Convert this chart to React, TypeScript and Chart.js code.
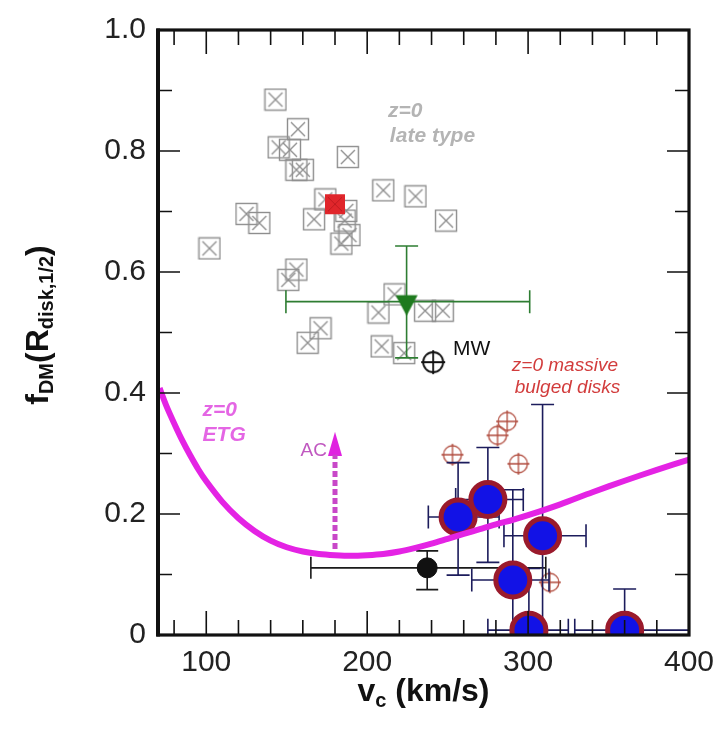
import React, { useEffect, useRef } from 'react';
import { Chart, registerables } from 'chart.js';

Chart.register(...registerables);

// ---------------- data ----------------
const lateTypeVc = [143, 157, 145, 152, 156, 160, 188, 125, 133, 102, 174, 167, 187, 186, 189, 184, 210, 230, 249, 156, 151, 171, 163, 217, 207, 236, 247, 209, 223];
const lateTypeF = [0.885, 0.836, 0.806, 0.802, 0.769, 0.769, 0.79, 0.696, 0.681, 0.639, 0.72, 0.687, 0.701, 0.685, 0.661, 0.647, 0.735, 0.725, 0.685, 0.604, 0.587, 0.507, 0.483, 0.563, 0.533, 0.536, 0.536, 0.477, 0.466];

const redSquareVc = [180];
const redSquareF = [0.712];

const greenVc = [224.5];
const greenF = [0.551];
const greenXLo = [149.5];
const greenXHi = [301];
const greenYLo = [0.458];
const greenYHi = [0.643];

const mwVc = [241];
const mwF = [0.451];

const blackVc = [237.3];
const blackF = [0.111];
const blackXLo = [165];
const blackXHi = [311];
const blackYLo = [0.075];
const blackYHi = [0.139];

const bulgedCrossVc = [287, 281, 253, 294, 313.5];
const bulgedCrossF = [0.353, 0.33, 0.298, 0.283, 0.087];

const bulgedVc = [256.5, 275, 309, 290.5, 300.5, 360];
const bulgedF = [0.195, 0.224, 0.164, 0.091, 0.008, 0.008];
const bulgedXLo = [238, 255, 285, 265, 275, 329];
const bulgedXHi = [282, 297, 336, 313, 325, 405];
const bulgedYLo = [0.099, 0.12, 0, 0, 0, 0];
const bulgedYHi = [0.285, 0.31, 0.381, 0.24, 0.11, 0.076];

const etgVc = [71, 75, 80, 85, 90, 95, 100, 110, 120, 130, 140, 150, 160, 170, 180, 190, 200, 210, 220, 230, 240, 250, 260, 270, 280, 290, 300, 320, 340, 360, 380, 400];
const etgF = [0.408, 0.38, 0.35, 0.322, 0.297, 0.274, 0.254, 0.22, 0.193, 0.172, 0.156, 0.145, 0.138, 0.134, 0.132, 0.131, 0.132, 0.134, 0.138, 0.144, 0.151, 0.159, 0.167, 0.175, 0.183, 0.19, 0.198, 0.216, 0.236, 0.255, 0.273, 0.29];

const acVc = [180, 180];
const acF = [0.142, 0.298];
const acHeadVc = [180];
const acHeadF = [0.316];

const xTickValues = [100, 200, 300, 400];
const yTickValues = [0, 0.2, 0.4, 0.6, 0.8, 1.0];
const xMinorTicks = [80, 100, 120, 140, 160, 180, 200, 220, 240, 260, 280, 300, 320, 340, 360, 380];
const yMinorTicks = [0.1, 0.2, 0.3, 0.4, 0.5, 0.6, 0.7, 0.8, 0.9];

const FONT = '"Liberation Sans", Arial, Helvetica, sans-serif';

function pts(xs: number[], ys: number[]) {
  return xs.map((x, i) => ({ x, y: ys[i] }));
}

function makeCanvas(w: number, h: number, draw: (c: CanvasRenderingContext2D) => void) {
  const c = document.createElement('canvas');
  c.width = w;
  c.height = h;
  const ctx = c.getContext('2d')!;
  draw(ctx);
  return c;
}

export default function App() {
  const ref = useRef<HTMLCanvasElement | null>(null);

  useEffect(() => {
    if (!ref.current) return;

    const squareX = makeCanvas(24, 24, (c) => {
      c.strokeStyle = '#8e8e8e';
      c.lineWidth = 1.4;
      c.strokeRect(1.5, 1.5, 21, 21);
      c.beginPath();
      c.moveTo(5, 5); c.lineTo(19, 19);
      c.moveTo(19, 5); c.lineTo(5, 19);
      c.stroke();
    });
    const redSq = makeCanvas(22, 22, (c) => {
      c.fillStyle = '#e0262b';
      c.fillRect(1, 1, 20, 20);
      c.strokeStyle = '#c01a20';
      c.lineWidth = 1;
      c.beginPath();
      c.moveTo(4, 4); c.lineTo(18, 18);
      c.moveTo(18, 4); c.lineTo(4, 18);
      c.stroke();
    });
    const crossCircle = (color: string, r: number, lw: number) =>
      makeCanvas(2 * r + 6, 2 * r + 6, (c) => {
        const m = r + 3;
        c.strokeStyle = color;
        c.lineWidth = lw;
        c.beginPath();
        c.arc(m, m, r, 0, Math.PI * 2);
        c.stroke();
        c.beginPath();
        c.moveTo(m - r - 2, m); c.lineTo(m + r + 2, m);
        c.moveTo(m, m - r - 2); c.lineTo(m, m + r + 2);
        c.stroke();
      });
    const redCross = crossCircle('#b04a3c', 9, 1.3);
    const mwCross = crossCircle('#111111', 10, 1.8);
    const greenTri = makeCanvas(24, 30, (c) => {
      c.fillStyle = '#1e7a1e';
      c.beginPath();
      c.moveTo(1, 8.5); c.lineTo(23, 8.5); c.lineTo(12, 29);
      c.closePath();
      c.fill();
    });
    const arrowHead = makeCanvas(14, 24, (c) => {
      c.fillStyle = '#e022e0';
      c.beginPath();
      c.moveTo(7, 0); c.lineTo(14, 24); c.lineTo(0, 24);
      c.closePath();
      c.fill();
    });

    const drawText = (ctx: CanvasRenderingContext2D, text: string, x: number, y: number, font: string, color: string, align: CanvasTextAlign = 'left') => {
      ctx.save();
      ctx.font = font;
      ctx.fillStyle = color;
      ctx.textAlign = align;
      ctx.textBaseline = 'middle';
      ctx.fillText(text, x, y);
      ctx.restore();
    };

    type Part = { t: string; sub: boolean };
    const richWidth = (ctx: CanvasRenderingContext2D, parts: Part[], main: string, sub: string) => {
      let w = 0;
      for (const p of parts) {
        ctx.font = p.sub ? sub : main;
        w += ctx.measureText(p.t).width;
      }
      return w;
    };
    const drawRich = (ctx: CanvasRenderingContext2D, parts: Part[], x0: number, baseY: number, main: string, sub: string, subOff: number) => {
      let x = x0;
      ctx.textBaseline = 'alphabetic';
      ctx.textAlign = 'left';
      for (const p of parts) {
        ctx.font = p.sub ? sub : main;
        ctx.fillText(p.t, x, baseY + (p.sub ? subOff : 0));
        x += ctx.measureText(p.t).width;
      }
    };

    const customPlugin = {
      id: 'custom',
      beforeDatasetDraw(chart: any, args: any) {
        const ds = chart.data.datasets[args.index];
        const eb = ds.errorBars;
        if (!eb) return;
        const { ctx, chartArea: a } = chart;
        const xs = chart.scales.x, ys = chart.scales.y;
        ctx.save();
        ctx.beginPath();
        ctx.rect(a.left, a.top, a.right - a.left, a.bottom - a.top);
        ctx.clip();
        ctx.strokeStyle = eb.color;
        ctx.lineWidth = eb.width;
        const cap = eb.cap;
        ds.data.forEach((d: any, i: number) => {
          const px = xs.getPixelForValue(d.x), py = ys.getPixelForValue(d.y);
          const xl = xs.getPixelForValue(eb.xLo[i]), xh = xs.getPixelForValue(eb.xHi[i]);
          const yl = ys.getPixelForValue(eb.yLo[i]), yh = ys.getPixelForValue(eb.yHi[i]);
          ctx.beginPath();
          ctx.moveTo(xl, py); ctx.lineTo(xh, py);
          ctx.moveTo(xl, py - cap); ctx.lineTo(xl, py + cap);
          ctx.moveTo(xh, py - cap); ctx.lineTo(xh, py + cap);
          ctx.moveTo(px, yl); ctx.lineTo(px, yh);
          ctx.moveTo(px - cap, yl); ctx.lineTo(px + cap, yl);
          ctx.moveTo(px - cap, yh); ctx.lineTo(px + cap, yh);
          ctx.stroke();
        });
        ctx.restore();
      },
      afterDatasetsDraw(chart: any) {
        const { ctx, chartArea: a } = chart;
        const xs = chart.scales.x, ys = chart.scales.y;
        const X = (v: number) => xs.getPixelForValue(v);
        const Y = (v: number) => ys.getPixelForValue(v);

        // annotations
        drawText(ctx, 'z=0', X(212.9), Y(0.866), `italic bold 21px ${FONT}`, '#b4b4b4');
        drawText(ctx, 'late type', X(214.1), Y(0.824), `italic bold 21px ${FONT}`, '#b4b4b4');
        drawText(ctx, 'MW', X(253.3), Y(0.473), `21px ${FONT}`, '#111111');
        drawText(ctx, 'z=0 massive', X(289.9), Y(0.445), `italic 19px ${FONT}`, '#d23c3c');
        drawText(ctx, 'bulged disks', X(291.7), Y(0.409), `italic 19px ${FONT}`, '#d23c3c');
        drawText(ctx, 'z=0', X(97.7), Y(0.372), `italic bold 21px ${FONT}`, '#e466e4');
        drawText(ctx, 'ETG', X(97.7), Y(0.33), `italic bold 21px ${FONT}`, '#e466e4');
        drawText(ctx, 'AC', X(175), Y(0.305), `19px ${FONT}`, '#c058c0', 'right');

        // ticks (inward) on all four sides
        ctx.save();
        ctx.strokeStyle = '#111111';
        ctx.lineWidth = 1.6;
        ctx.beginPath();
        for (const v of xMinorTicks) {
          const len = v % 100 === 0 ? 24 : 15;
          const x = X(v);
          ctx.moveTo(x, a.bottom); ctx.lineTo(x, a.bottom - len);
          ctx.moveTo(x, a.top); ctx.lineTo(x, a.top + len);
        }
        for (const v of yMinorTicks) {
          const major = Math.abs(Math.round(v * 10) % 2) === 0;
          const len = major ? 22 : 14;
          const y = Y(v);
          ctx.moveTo(a.left, y); ctx.lineTo(a.left + len, y);
          ctx.moveTo(a.right, y); ctx.lineTo(a.right - len, y);
        }
        ctx.stroke();
        // frame
        ctx.lineWidth = 3.2;
        ctx.strokeRect(a.left, a.top, a.right - a.left, a.bottom - a.top);
        ctx.lineWidth = 4;
        ctx.beginPath();
        ctx.moveTo(a.left, a.top - 1.5); ctx.lineTo(a.left, a.bottom + 1.5);
        ctx.stroke();
        ctx.restore();
      },
      afterDraw(chart: any) {
        const { ctx, chartArea: a } = chart;
        const main = `bold 32px ${FONT}`;
        const sub = `bold 20px ${FONT}`;
        ctx.save();
        ctx.fillStyle = '#111111';
        // y axis title
        const yParts = [
          { t: 'f', sub: false },
          { t: 'DM', sub: true },
          { t: '(R', sub: false },
          { t: 'disk,1/2', sub: true },
          { t: ')', sub: false },
        ];
        const wy = richWidth(ctx, yParts, main, sub);
        ctx.save();
        ctx.translate(48, 325);
        ctx.rotate(-Math.PI / 2);
        drawRich(ctx, yParts, -wy / 2, 0, main, sub, 5);
        ctx.restore();
        // x axis title
        const xParts = [
          { t: 'v', sub: false },
          { t: 'c', sub: true },
          { t: ' (km/s)', sub: false },
        ];
        const wx = richWidth(ctx, xParts, main, sub);
        drawRich(ctx, xParts, (a.left + a.right) / 2 - wx / 2, 701, main, sub, 6);
        ctx.restore();
      },
    };

    const chart = new Chart(ref.current, {
      type: 'scatter',
      data: {
        datasets: [
          {
            label: 'late type',
            data: pts(lateTypeVc, lateTypeF),
            pointStyle: squareX as any,
            pointRadius: 11,
            order: 9,
          },
          {
            label: 'red square',
            data: pts(redSquareVc, redSquareF),
            pointStyle: redSq as any,
            pointRadius: 11,
            order: 8,
          },
          {
            label: 'green',
            data: pts(greenVc, greenF),
            pointStyle: greenTri as any,
            pointRadius: 11,
            order: 7,
            errorBars: { xLo: greenXLo, xHi: greenXHi, yLo: greenYLo, yHi: greenYHi, color: '#2e7d32', width: 1.6, cap: 11.5 },
          } as any,
          {
            label: 'MW',
            data: pts(mwVc, mwF),
            pointStyle: mwCross as any,
            pointRadius: 11,
            order: 7,
          },
          {
            label: 'bulged cross',
            data: pts(bulgedCrossVc, bulgedCrossF),
            pointStyle: redCross as any,
            pointRadius: 10,
            order: 5,
          },
          {
            label: 'black',
            data: pts(blackVc, blackF),
            pointStyle: 'circle',
            pointRadius: 10,
            backgroundColor: '#111111',
            borderColor: '#111111',
            borderWidth: 1,
            order: 4,
            errorBars: { xLo: blackXLo, xHi: blackXHi, yLo: blackYLo, yHi: blackYHi, color: '#1a1a1a', width: 1.6, cap: 11 },
          } as any,
          {
            label: 'bulged',
            data: pts(bulgedVc, bulgedF),
            pointStyle: 'circle',
            pointRadius: 17,
            backgroundColor: '#1212e6',
            borderColor: '#9a1a2c',
            borderWidth: 5,
            order: 3,
            clip: 0,
            errorBars: { xLo: bulgedXLo, xHi: bulgedXHi, yLo: bulgedYLo, yHi: bulgedYHi, color: '#1c1c5c', width: 1.6, cap: 11.5 },
          } as any,
          {
            label: 'ETG',
            data: pts(etgVc, etgF),
            showLine: true,
            pointRadius: 0,
            borderColor: '#e423e4',
            borderWidth: 6,
            tension: 0.3,
            order: 2,
          },
          {
            label: 'AC',
            data: pts(acVc, acF),
            showLine: true,
            pointRadius: 0,
            borderColor: '#c848c8',
            borderWidth: 5,
            borderDash: [6, 3],
            order: 1,
          },
          {
            label: 'AC head',
            data: pts(acHeadVc, acHeadF),
            pointStyle: arrowHead as any,
            pointRadius: 10,
            order: 1,
          },
        ],
      },
      options: {
        responsive: false,
        animation: false,
        events: [],
        layout: { padding: { left: 0, right: 39, top: 19, bottom: 0 } },
        plugins: {
          legend: { display: false },
          tooltip: { enabled: false },
        },
        scales: {
          x: {
            type: 'linear',
            min: 70,
            max: 400,
            afterBuildTicks: (s: any) => {
              s.ticks = xTickValues.map((v) => ({ value: v }));
            },
            afterFit: (s: any) => {
              s.height = 95;
            },
            grid: { display: false, drawTicks: false },
            border: { display: false },
            ticks: {
              padding: 10,
              autoSkip: false,
              maxRotation: 0,
              color: '#222222',
              font: { family: FONT, size: 30 },
              callback: (v: any) => String(v),
            },
          },
          y: {
            type: 'linear',
            min: 0,
            max: 1,
            afterBuildTicks: (s: any) => {
              s.ticks = yTickValues.map((v) => ({ value: v }));
            },
            afterFit: (s: any) => {
              s.width = 158;
            },
            grid: { display: false, drawTicks: false },
            border: { display: false },
            ticks: {
              padding: 12,
              autoSkip: false,
              color: '#222222',
              font: { family: FONT, size: 30 },
              callback: (v: any) => (v === 0 ? '0' : Number(v).toFixed(1)),
            },
          },
        },
      },
      plugins: [customPlugin as any],
    });

    return () => chart.destroy();
  }, []);

  return (
    <div style={{ position: 'fixed', left: 0, top: 0, width: 728, height: 730, background: '#ffffff' }}>
      <canvas ref={ref} width={728} height={730} style={{ display: 'block' }} />
    </div>
  );
}
